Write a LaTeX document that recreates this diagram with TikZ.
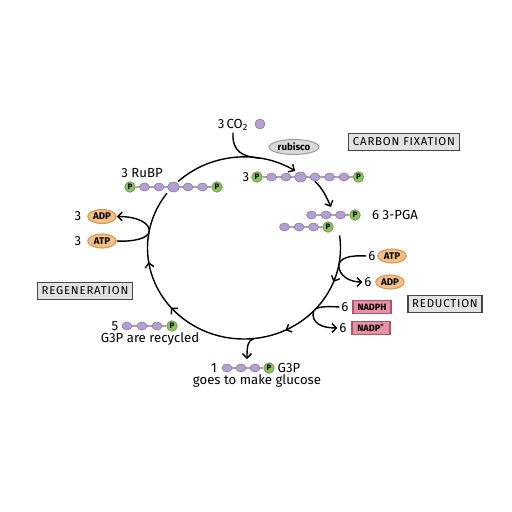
\documentclass[tikz,border=0pt]{standalone}
\usepackage{fontspec}
\setmainfont{Fira Sans}
\usetikzlibrary{arrows.meta, positioning, shapes.geometric, backgrounds, decorations.markings}
\usepackage{xcolor}
\definecolor{cpurple}{RGB}{180,160,206}
\definecolor{cpurpled}{RGB}{140,115,178}
\definecolor{cgreen}{RGB}{142,192,96}
\definecolor{cgreend}{RGB}{100,152,70}
\definecolor{corange}{RGB}{242,192,132}
\definecolor{coranged}{RGB}{214,150,86}
\definecolor{cpink}{RGB}{228,146,166}
\definecolor{cpinkd}{RGB}{178,82,104}
\definecolor{cgray}{RGB}{226,226,226}
\definecolor{cgrayd}{RGB}{72,72,72}

\begin{document}
\begin{tikzpicture}[
  carb/.style={ellipse, draw=cpurpled, fill=cpurple, line width=0.3pt,
               minimum width=0.2cm, minimum height=0.16cm, inner sep=0pt},
  bigcarb/.style={carb, minimum width=0.24cm, minimum height=0.2cm},
  phos/.style={circle, draw=cgreend, fill=cgreen, line width=0.4pt, minimum size=0.21cm,
               inner sep=0pt, font=\fontsize{4.5}{5}\selectfont\bfseries},
  bond/.style={draw=gray!70, line width=0.6pt},
  lbl/.style={font=\fontsize{7.5}{9}\selectfont, inner sep=1pt},
  stage/.style={draw=cgrayd, fill=cgray, line width=0.8pt, inner xsep=2.5pt, inner ysep=2.5pt,
                font=\fontsize{6.5}{7}\selectfont\addfontfeature{LetterSpace=7}},
  energy/.style={ellipse, draw=coranged, fill=corange, line width=0.6pt, minimum width=0.57cm,
                 minimum height=0.28cm, inner sep=0pt, font=\fontsize{5.5}{6}\selectfont\bfseries},
  carrier/.style={rectangle, draw=cpinkd, fill=cpink, line width=0.6pt, minimum width=0.76cm,
                  minimum height=0.27cm, inner sep=1pt, font=\fontsize{5.2}{6}\selectfont\bfseries},
  flow/.style={line width=0.8pt, -{Straight Barb[length=2.5pt,width=5pt]}},
  cyclemarks/.style={line width=0.8pt, postaction={decorate}, decoration={markings,
     mark=at position 0.13 with {\arrow{Straight Barb[length=2.5pt,width=5pt]}},
     mark=at position 0.32 with {\arrow{Straight Barb[length=2.5pt,width=5pt]}},
     mark=at position 0.66 with {\arrow{Straight Barb[length=2.5pt,width=5pt]}},
     mark=at position 0.80 with {\arrow{Straight Barb[length=2.5pt,width=5pt]}}}},
]
\begin{scope}[on background layer]
  \path[use as bounding box, fill=white] (-4.88,-5.28) rectangle (5.36,4.96);
\end{scope}

% stage labels
\node[stage] (fix) at (3.2,2.12) {CARBON FIXATION};
\node[stage] (red) at (4.02,-1.12) {REDUCTION};
\node[stage] (reg) at (-3.18,-0.86) {REGENERATION};

% CO2 and rubisco
\node[lbl] (co2) at (-0.22,2.46) {3\,CO\textsubscript{2}};
\node[carb, minimum width=0.2cm, minimum height=0.2cm] (co2c) at (0.32,2.48) {};
\node[ellipse, draw=gray!75, fill=gray!30, line width=0.6pt, minimum width=1cm,
      minimum height=0.3cm, inner sep=0pt, font=\fontsize{5.5}{6}\selectfont\bfseries]
      (rub) at (1.0,2.02) {rubisco};

% RuBP
\node[lbl] (rblbl) at (-2.04,1.5) {3 RuBP};
\node[phos] (rbP1) at (-2.28,1.22) {P};
\foreach \i/\x in {1/-1.99,2/-1.70,4/-1.12,5/-0.83}
  \node[carb] (rb\i) at (\x,1.22) {};
\node[bigcarb] (rb3) at (-1.41,1.22) {};
\node[phos] (rbP2) at (-0.54,1.22) {P};

% six-carbon intermediate
\node[lbl] (icn) at (0.04,1.42) {3};
\node[phos] (icP1) at (0.26,1.42) {P};
\foreach \i/\x in {1/0.55,2/0.84,4/1.42,5/1.71,6/2.0}
  \node[carb] (ic\i) at (\x,1.42) {};
\node[bigcarb] (ic3) at (1.13,1.42) {};
\node[phos] (icP2) at (2.29,1.42) {P};

% 3-PGA
\foreach \i/\x in {1/1.35,2/1.64,3/1.93}
  \node[carb] (pu\i) at (\x,0.66) {};
\node[phos] (puP) at (2.22,0.66) {P};
\node[lbl] (pgalbl) at (3.02,0.66) {6 3-PGA};
\foreach \i/\x in {1/0.81,2/1.10,3/1.39}
  \node[carb] (pl\i) at (\x,0.42) {};
\node[phos] (plP) at (1.68,0.42) {P};

% ATP / ADP, NADPH / NADP+
\node[lbl] (nadpL) at (-3.32,0.64) {3};
\node[energy] (adpL) at (-2.84,0.63) {ADP};
\node[lbl] (natpL) at (-3.32,0.14) {3};
\node[energy] (atpL) at (-2.84,0.14) {ATP};
\node[lbl] (natpR) at (2.56,-0.16) {6};
\node[energy] (atpR) at (2.96,-0.16) {ATP};
\node[lbl] (nadpR) at (2.48,-0.68) {6};
\node[energy] (adpR) at (2.92,-0.68) {ADP};
\node[lbl] (nnadph) at (2.02,-1.18) {6};
\node[carrier] (nadph) at (2.56,-1.18) {NADPH};
\node[lbl] (nnadp) at (1.98,-1.6) {6};
\node[carrier] (nadp) at (2.54,-1.6) {NADP\textsuperscript{+}};

% G3P recycled
\node[lbl] (n5) at (-2.58,-1.56) {5};
\foreach \i/\x in {1/-2.34,2/-2.04,3/-1.74}
  \node[carb] (rc\i) at (\x,-1.56) {};
\node[phos] (rcP) at (-1.44,-1.56) {P};
\node[lbl] (rclbl) at (-1.88,-1.82) {G3P are recycled};

% G3P out
\node[lbl] (n1) at (-0.6,-2.4) {1};
\foreach \i/\x in {1/-0.34,2/-0.06,3/0.22}
  \node[carb] (gc\i) at (\x,-2.4) {};
\node[phos] (gcP) at (0.5,-2.4) {P};
\node[lbl] (gclbl) at (0.9,-2.4) {G3P};
\node[lbl] (gcout) at (0.26,-2.65) {goes to make glucose};

\begin{scope}[on background layer]
  \draw[bond] (rbP1) -- (rbP2);
  \draw[bond] (icP1) -- (icP2);
  \draw[bond] (pu1) -- (puP);
  \draw[bond] (pl1) -- (plP);
  \draw[bond] (rc1) -- (rcP);
  \draw[bond] (gc1) -- (gcP);
\end{scope}

% points on the cycle
\coordinate (tA) at (133:1.93 and 1.82);
\coordinate (tJ) at (81:1.93 and 1.82);
\coordinate (cyc0) at (8:1.93 and 1.82);
\coordinate (jR1) at (-11:1.93 and 1.82);
\coordinate (jR2) at (-44:1.93 and 1.82);
\coordinate (cycB) at (-84:1.93 and 1.82);
\coordinate (jL) at (170:1.93 and 1.82);
\coordinate (gEnd) at (0.06,-2.22);
\coordinate (pgaEnd) at (1.74,0.82);

% the cycle
\draw[flow] (tA) arc[start angle=133, end angle=58, x radius=1.93, y radius=1.82];
\draw[cyclemarks] (cyc0) arc[start angle=8, end angle=-217, x radius=1.93, y radius=1.82];
\draw[line width=0.8pt] (co2.south) .. controls (-0.24,1.92) and (-0.02,1.83) .. (tJ);
\draw[flow] (ic4.south) to[out=-45, in=115] (pgaEnd);
\draw[flow] (cycB) .. controls (0.08,-1.84) and (0.06,-1.95) .. (gEnd);

% energy in and out
\draw[flow] (natpR.west) .. controls (2.1,-0.14) and (1.92,-0.2) .. (jR1)
  .. controls (1.9,-0.55) and (2.1,-0.68) .. (nadpR.west);
\draw[flow] (nnadph.west) .. controls (1.6,-1.16) and (1.42,-1.18) .. (jR2)
  .. controls (1.34,-1.5) and (1.55,-1.6) .. (nnadp.west);
\draw[flow] (atpL.east) .. controls (-2.2,0.12) and (-1.92,0.2) .. (jL)
  .. controls (-1.86,0.48) and (-2.1,0.63) .. (adpL.east);
\end{tikzpicture}
\end{document}
